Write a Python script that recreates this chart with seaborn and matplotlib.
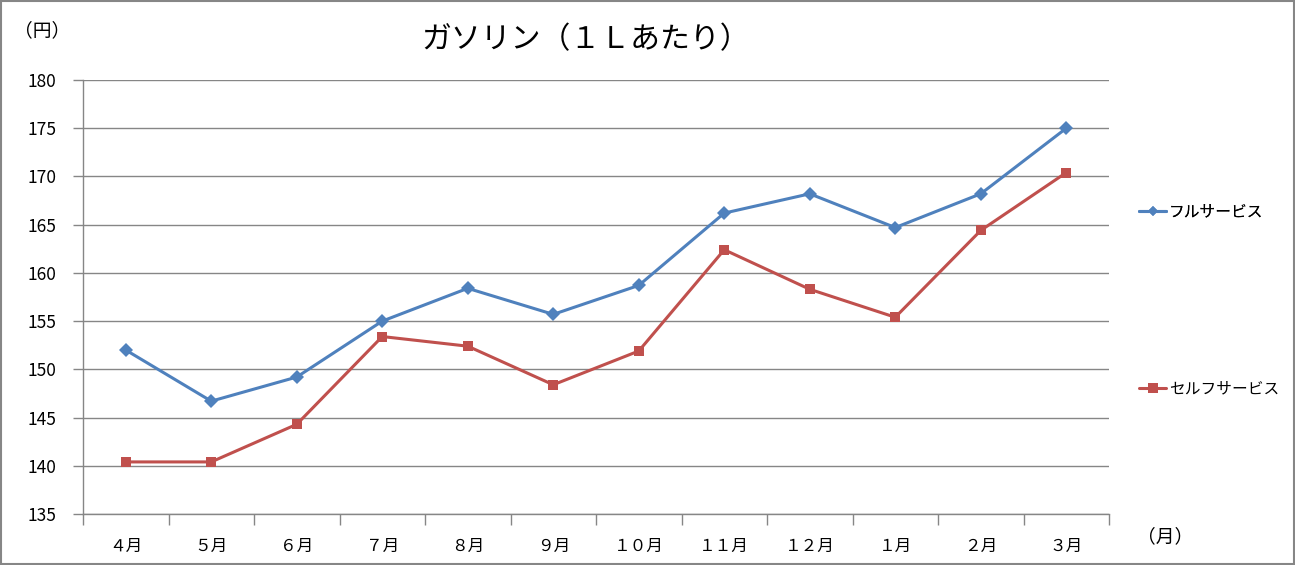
import pandas as pd
import matplotlib
matplotlib.use("Agg")
import matplotlib.pyplot as plt
from matplotlib.lines import Line2D
from matplotlib.patches import Rectangle
import seaborn as sns

# data
months = ["４月", "５月", "６月", "７月", "８月", "９月",
          "１０月", "１１月", "１２月", "１月", "２月", "３月"]
full_service = [152.0, 146.7, 149.2, 155.0, 158.4, 155.7,
                158.7, 166.2, 168.2, 164.7, 168.2, 175.0]
self_service = [140.4, 140.4, 144.3, 153.4, 152.4, 148.4,
                151.9, 162.4, 158.3, 155.4, 164.4, 170.4]
series_names = ["フルサービス", "セルフサービス"]
y_ticks = [135, 140, 145, 150, 155, 160, 165, 170, 175, 180]

BLUE = "#4F81BD"
RED = "#C0504D"
GRID = "#868686"

sns.set_style("white")
plt.rcParams['font.family'] = ['Noto Sans CJK JP', 'DejaVu Sans']
plt.rcParams['text.color'] = 'black'
plt.rcParams['xtick.color'] = 'black'
plt.rcParams['ytick.color'] = 'black'

df = pd.DataFrame({"month": months * 2,
                   "price": full_service + self_service,
                   "kind": [series_names[0]] * len(months) + [series_names[1]] * len(months)})

fig = plt.figure(figsize=(12.95, 5.65), dpi=100)
ax = fig.add_axes([83 / 1295, 51 / 565, 1026 / 1295, 434 / 565])

sns.lineplot(data=df, x="month", y="price", hue="kind", style="kind",
             palette=[BLUE, RED], markers=["D", "s"], dashes=False,
             markersize=7, markeredgewidth=0, linewidth=2.2, sort=False,
             legend=False, ax=ax)

ax.set_ylim(135, 180)
ax.set_xlim(-0.5, len(months) - 0.5)
ax.set_yticks(y_ticks)
ax.yaxis.grid(True, color=GRID, linewidth=1)
ax.set_axisbelow(True)
ax.set_xlabel("")
ax.set_ylabel("")

# boundary ticks without labels, labels in the middle of each category
ax.set_xticks([i - 0.5 for i in range(len(months) + 1)])
ax.set_xticklabels([])
ax.set_xticks(range(len(months)), minor=True)
ax.set_xticklabels(months, minor=True, fontsize=12)
ax.tick_params(axis="x", which="major", bottom=True, direction="out", length=8,
               color=GRID, width=1)
ax.tick_params(axis="x", which="minor", bottom=True, length=0, pad=17)
ax.tick_params(axis="y", left=True, direction="out", length=7, color=GRID, width=1,
               labelsize=12.5, pad=12)

for side in ["top", "right"]:
    ax.spines[side].set_visible(False)
for side in ["left", "bottom"]:
    ax.spines[side].set_color(GRID)
    ax.spines[side].set_linewidth(1)

fig.text(586 / 1295, 1 - 40 / 565, "ガソリン（１Ｌあたり）", fontsize=21.5,
         ha="center", va="center")
fig.text(42 / 1295, 1 - 31 / 565, "（円）", fontsize=13.5, ha="center", va="center")
fig.text(1165 / 1295, 1 - 537 / 565, "（月）", fontsize=13.5, ha="center", va="center")

# the two legend entries sit far apart, so draw them as separate legends
h_full = Line2D([], [], color=BLUE, marker="D", markersize=5, markeredgewidth=0, linewidth=2.2)
h_self = Line2D([], [], color=RED, marker="s", markersize=7, markeredgewidth=0, linewidth=2.2)
leg_kw = dict(loc="center left", frameon=False, fontsize=11.3, handlelength=1.75,
              handletextpad=0.15, borderpad=0, borderaxespad=0)
leg1 = fig.legend([h_full], [series_names[0]],
                  bbox_to_anchor=(1139 / 1295, 1 - 212 / 565), **leg_kw)
fig.add_artist(leg1)
fig.legend([h_self], [series_names[1]],
           bbox_to_anchor=(1139 / 1295, 1 - 389 / 565), **leg_kw)

fig.add_artist(Rectangle((0.0008, 0.0015), 0.9984, 0.997, transform=fig.transFigure,
                         fill=False, edgecolor="#868686", linewidth=1.5))

fig.savefig("out.png", dpi=100)
